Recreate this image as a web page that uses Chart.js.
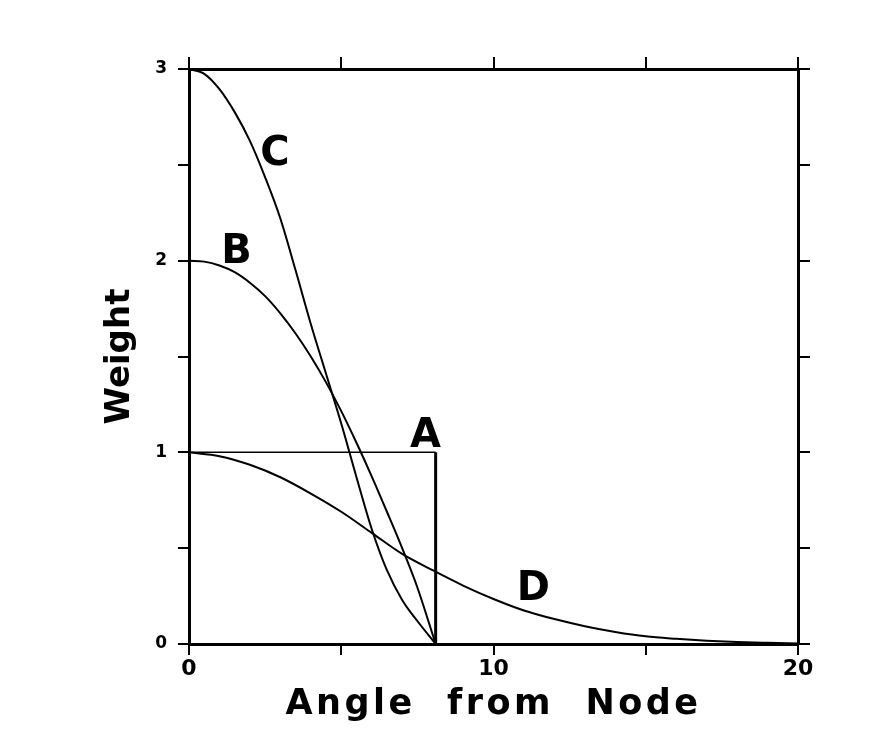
<!DOCTYPE html>
<html>
<head>
<meta charset="utf-8">
<script src="https://cdn.jsdelivr.net/npm/chart.js@4.4.1/dist/chart.umd.min.js"></script>
<style>
html,body{margin:0;padding:0;background:#ffffff;}
canvas{display:block;}
</style>
</head>
<body>
<canvas id="chart" width="878" height="742"></canvas>
<script>
// ---- data ----
const xTitle = 'Angle  from  Node';
const yTitle = 'Weight';
const xTickLabels = [0, 10, 20];
const yTickLabels = [0, 1, 2, 3];
const seriesNames = ['A', 'B', 'C', 'D'];

const aX = [0, 8.1, 8.1];
const aY = [1, 1, 0];

const bcX = [0, 0.5, 1, 1.5, 2, 2.5, 3, 3.5, 4, 4.5, 5, 5.5, 6, 6.5, 7, 7.5, 8.1];
const bY  = [2.0, 1.995, 1.975, 1.94, 1.885, 1.815, 1.725, 1.62, 1.50, 1.365, 1.215, 1.05, 0.875, 0.69, 0.50, 0.295, 0];
const cY  = [3.0, 2.975, 2.895, 2.775, 2.625, 2.435, 2.22, 1.95, 1.67, 1.41, 1.15, 0.87, 0.60, 0.385, 0.23, 0.12, 0];

const dX = [0, 1, 2, 3, 4, 5, 6, 7, 8, 9, 10, 11, 12, 13, 14, 15, 16, 17, 18, 19, 20];
const dY = [1.0, 0.98, 0.935, 0.87, 0.785, 0.69, 0.58, 0.47, 0.385, 0.305, 0.235, 0.175, 0.13, 0.093, 0.063, 0.04, 0.027, 0.017, 0.01, 0.006, 0.003];

// curve label anchors (data units: centre x, baseline y)
const labelAnchorX = [7.77, 1.56, 2.82, 11.31];
const labelAnchorY = [1.03, 1.99, 2.50, 0.23];

const toPoints = (xs, ys) => xs.map((x, i) => ({x: x, y: ys[i]}));

const FONT = 'DejaVu Sans';

const textPlugin = {
  id: 'textPlugin',
  beforeDraw(chart) { chart.ctx.letterSpacing = '0px'; },
  afterDatasetsDraw(chart) { chart.ctx.letterSpacing = '3.5px'; },
  afterDraw(chart) {
    const ctx = chart.ctx;
    ctx.letterSpacing = '0px';
    ctx.save();
    ctx.font = 'bold 40px "' + FONT + '"';
    ctx.fillStyle = '#000';
    ctx.textAlign = 'center';
    ctx.textBaseline = 'alphabetic';
    const xs = chart.scales.x, ys = chart.scales.y;
    seriesNames.forEach((n, i) => {
      ctx.fillText(n, xs.getPixelForValue(labelAnchorX[i]), ys.getPixelForValue(labelAnchorY[i]));
    });
    ctx.restore();
  }
};

const lineDs = (label, pts, smooth) => ({
  label: label,
  data: pts,
  borderColor: '#000',
  borderWidth: 2,
  pointRadius: 0,
  fill: false,
  clip: false,
  tension: 0,
  cubicInterpolationMode: smooth ? 'monotone' : 'default',
  xAxisID: 'x',
  yAxisID: 'y'
});

const gridCommon = (len, z) => ({
  display: true, drawOnChartArea: false, drawTicks: true,
  tickLength: len, color: '#000', lineWidth: 2, z: z
});
const borderCommon = (z) => ({display: true, color: '#000', width: 3, z: z});

const dsA = lineDs('A', toPoints(aX, aY), false);
dsA.segment = {borderWidth: (c) => c.p0DataIndex === 0 ? 1.5 : 3};

new Chart(document.getElementById('chart'), {
  type: 'line',
  data: {
    datasets: [
      dsA,
      lineDs('B', toPoints(bcX, bY), true),
      lineDs('C', toPoints(bcX, cY), true),
      lineDs('D', toPoints(dX, dY), true)
    ]
  },
  options: {
    responsive: false,
    animation: false,
    devicePixelRatio: 1,
    layout: {padding: 0},
    plugins: {legend: {display: false}, tooltip: {enabled: false}},
    scales: {
      x: {
        type: 'linear', position: 'bottom', min: 0, max: 20,
        afterFit(s) { s.height = 98; },
        ticks: {
          stepSize: 5, autoSkip: false, maxRotation: 0, padding: 1, color: '#000',
          font: {family: FONT, size: 22, weight: 'bold'},
          callback: (v) => xTickLabels.includes(v) ? String(v) : ''
        },
        grid: gridCommon(11, 1),
        border: borderCommon(1),
        title: {
          display: true, text: xTitle, color: '#000',
          font: {family: FONT, size: 35, weight: 'bold', lineHeight: 1.2},
          padding: {top: 0, bottom: 16}
        }
      },
      y: {
        type: 'linear', position: 'left', min: 0, max: 3,
        afterFit(s) { s.width = 189; },
        ticks: {
          stepSize: 0.5, autoSkip: false, padding: 11, color: '#000',
          font: {family: FONT, size: 17, weight: 'bold'},
          callback: (v) => yTickLabels.includes(v) ? String(v) : ''
        },
        grid: gridCommon(11, -1),
        border: borderCommon(0),
        title: {
          display: true, text: yTitle, color: '#000',
          font: {family: FONT, size: 34, weight: 'bold', lineHeight: 1.2},
          padding: {top: 100, bottom: 0}
        }
      },
      x2: {
        type: 'linear', position: 'top', min: 0, max: 20,
        afterFit(s) { s.height = 69; },
        ticks: {display: false, stepSize: 5, autoSkip: false},
        grid: gridCommon(12, -1),
        border: borderCommon(0)
      },
      y2: {
        type: 'linear', position: 'right', min: 0, max: 3,
        afterFit(s) { s.width = 80; },
        ticks: {display: false, stepSize: 0.5, autoSkip: false},
        grid: gridCommon(12, -1),
        border: borderCommon(0)
      }
    }
  },
  plugins: [textPlugin]
});
</script>
</body>
</html>
